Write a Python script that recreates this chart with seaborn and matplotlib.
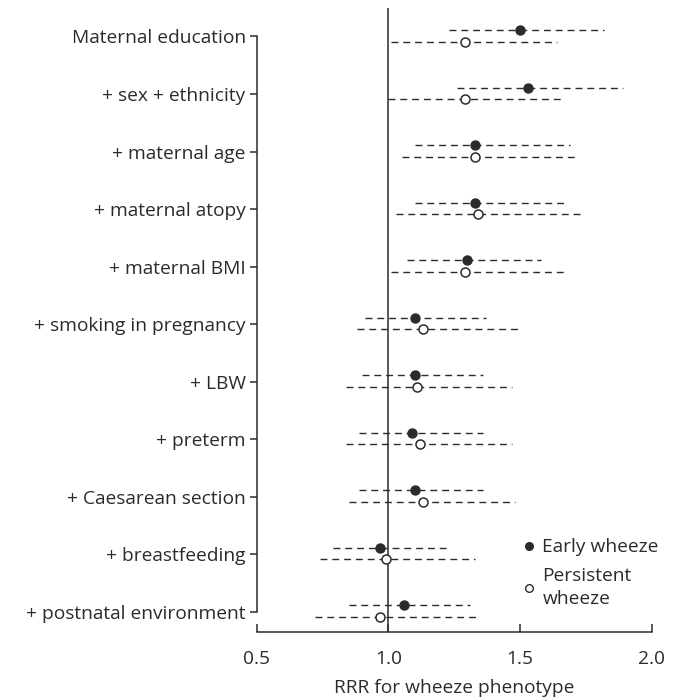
import numpy as np
import pandas as pd
import matplotlib
matplotlib.use('Agg')
import matplotlib.pyplot as plt
import seaborn as sns
from matplotlib.lines import Line2D

models = ['Maternal education', '+ sex + ethnicity', '+ maternal age',
          '+ maternal atopy', '+ maternal BMI', '+ smoking in pregnancy',
          '+ LBW', '+ preterm', '+ Caesarean section', '+ breastfeeding',
          '+ postnatal environment']

early_rrr = [1.50, 1.53, 1.33, 1.33, 1.30, 1.10, 1.10, 1.09, 1.10, 0.97, 1.06]
early_lo = [1.23, 1.26, 1.10, 1.10, 1.07, 0.91, 0.90, 0.89, 0.89, 0.79, 0.85]
early_hi = [1.82, 1.89, 1.69, 1.68, 1.58, 1.37, 1.36, 1.36, 1.36, 1.22, 1.31]

pers_rrr = [1.29, 1.29, 1.33, 1.34, 1.29, 1.13, 1.11, 1.12, 1.13, 0.99, 0.97]
pers_lo = [1.01, 1.00, 1.05, 1.03, 1.01, 0.88, 0.84, 0.84, 0.85, 0.74, 0.72]
pers_hi = [1.64, 1.67, 1.72, 1.73, 1.68, 1.50, 1.47, 1.47, 1.48, 1.33, 1.34]

ink = '#2b2b2b'
sns.set_style('ticks')
plt.rcParams['font.family'] = ['Open Sans', 'DejaVu Sans']
plt.rcParams['text.color'] = ink
plt.rcParams['axes.labelcolor'] = ink
plt.rcParams['xtick.color'] = ink
plt.rcParams['ytick.color'] = ink

fs = 13.8

pos = np.arange(len(models))
df = pd.concat([
    pd.DataFrame({'model': models, 'y': pos - 0.11, 'rrr': early_rrr,
                  'lo': early_lo, 'hi': early_hi, 'group': 'Early wheeze'}),
    pd.DataFrame({'model': models, 'y': pos + 0.09, 'rrr': pers_rrr,
                  'lo': pers_lo, 'hi': pers_hi, 'group': 'Persistent wheeze'}),
])

fig = plt.figure(figsize=(6.81, 6.99), dpi=100)
ax = fig.add_axes([0.377, 0.096, 0.58, 0.893])

ax.axvline(1.0, color=ink, lw=1.1, zorder=1)
ax.hlines(df['y'], df['lo'], df['hi'], colors=ink, lw=1.0,
          linestyles=(0, (5, 3.5)), zorder=2)

sns.scatterplot(data=df[df.group == 'Early wheeze'], x='rrr', y='y', ax=ax,
                s=42, color=ink, edgecolor=ink, linewidth=1, zorder=3, legend=False)
sns.scatterplot(data=df[df.group == 'Persistent wheeze'], x='rrr', y='y', ax=ax,
                s=42, color='white', edgecolor=ink, linewidth=1.1, zorder=3, legend=False)

ax.set_xlim(0.5, 2.0)
ax.set_ylim(10.35, -0.5)
ax.set_xticks([0.5, 1.0, 1.5, 2.0])
ax.set_xticklabels(['0.5', '1.0', '1.5', '2.0'], fontsize=fs)
ax.set_yticks(pos)
ax.set_yticklabels(models, fontsize=fs)
ax.set_xlabel('RRR for wheeze phenotype', fontsize=fs, labelpad=8)
ax.set_ylabel('')

ax.tick_params(axis='x', direction='in', length=6, width=1.1, pad=13)
ax.tick_params(axis='y', direction='out', length=5, width=1.1, pad=3)
sns.despine(ax=ax, top=True, right=True)
ax.spines['left'].set_bounds(0, 10)
for side in ['left', 'bottom']:
    ax.spines[side].set_color(ink)
    ax.spines[side].set_linewidth(1.1)

handles = [
    Line2D([], [], marker='o', ls='', ms=5.5, color=ink, markeredgecolor=ink),
    Line2D([], [], marker='o', ls='', ms=5.5, markerfacecolor='white',
           markeredgecolor=ink, markeredgewidth=1),
]
leg = ax.legend(handles, ['Early wheeze', 'Persistent\nwheeze'], frameon=False,
                loc='upper left', bbox_to_anchor=(0.655, 0.162), fontsize=fs,
                handlelength=0.6, handletextpad=0.4, labelspacing=0.55,
                borderaxespad=0)
for t in leg.get_texts():
    t.set_linespacing(1.35)

fig.savefig('out.png', dpi=100)
